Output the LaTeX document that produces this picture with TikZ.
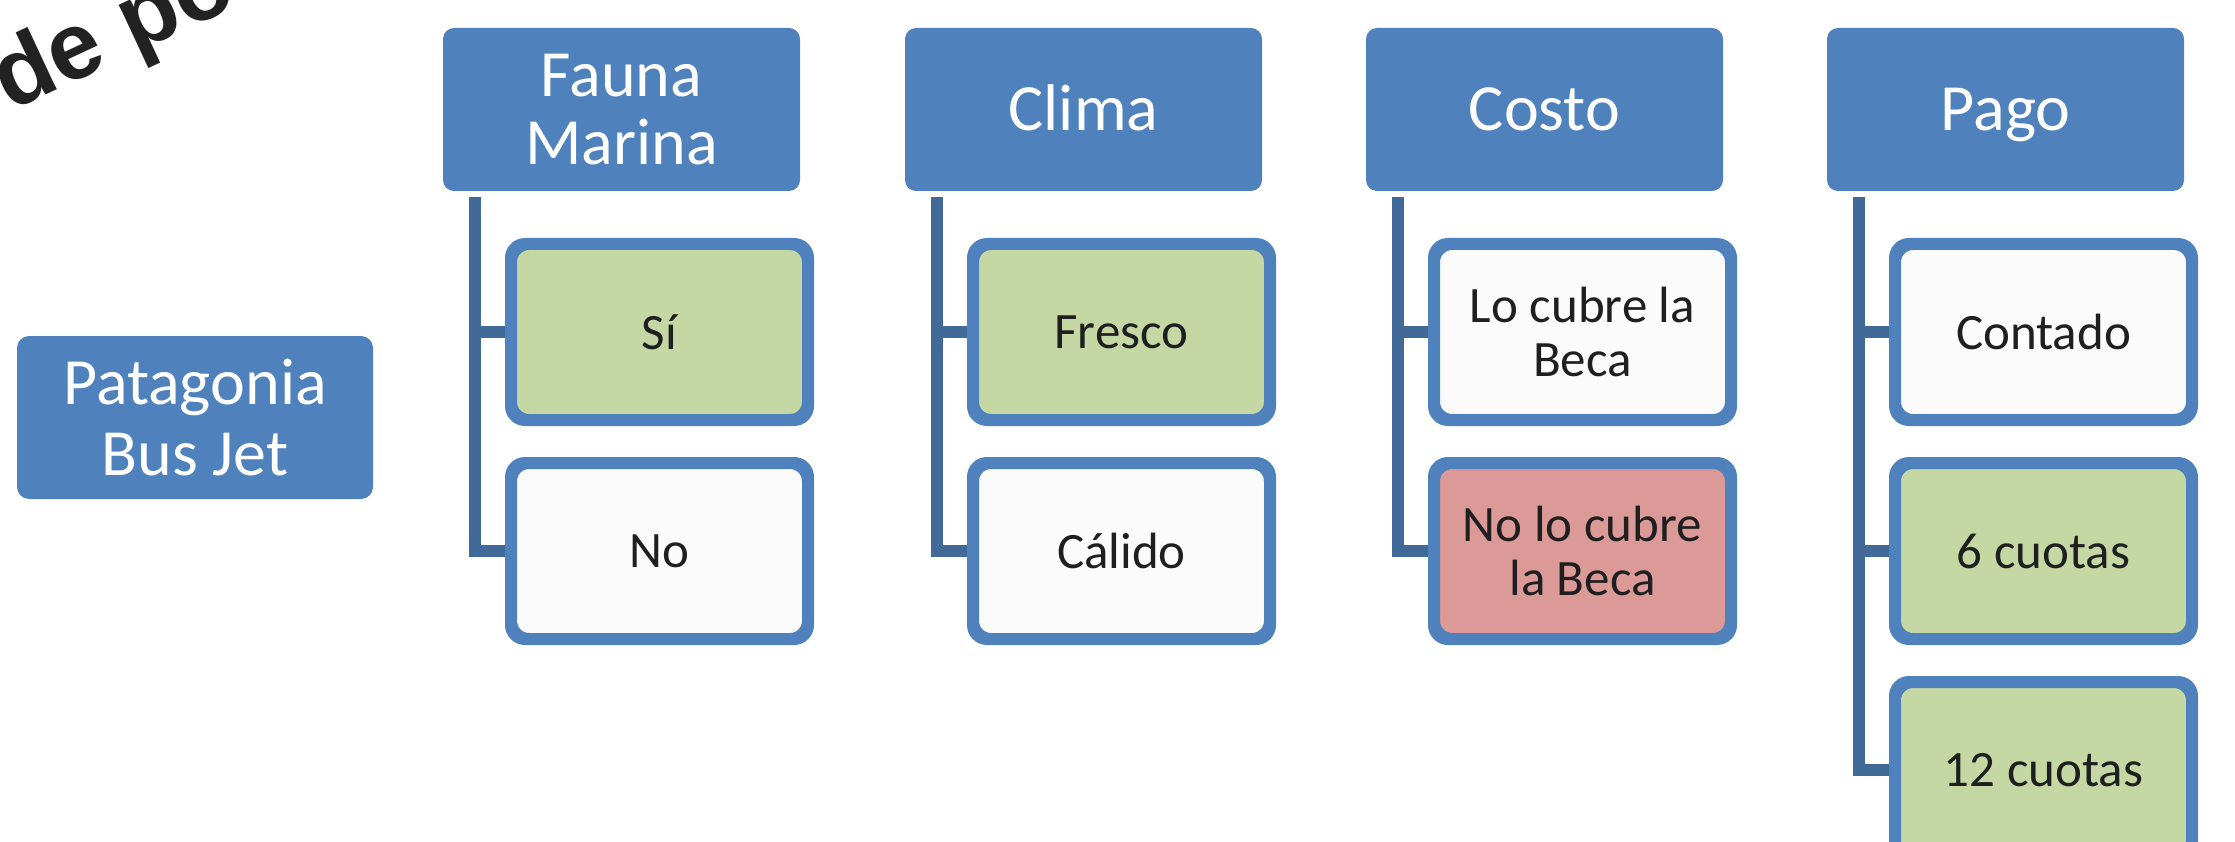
\documentclass[tikz,border=0pt]{standalone}
\usepackage{fontspec}
\setmainfont{Carlito}
\newfontfamily\arialfont{Liberation Sans}
\usetikzlibrary{calc}
\definecolor{hdrblue}{RGB}{79,129,189}
\definecolor{connblue}{RGB}{65,106,153}
\definecolor{okgreen}{RGB}{197,216,164}
\definecolor{nored}{RGB}{219,153,152}
\definecolor{offwhite}{RGB}{251,251,251}
\definecolor{titledark}{RGB}{34,34,34}
\begin{document}
\begin{tikzpicture}[x=1pt,y=-1pt,
  hdr/.style={fill=hdrblue, draw=none, rounded corners=11pt, minimum width=357pt, minimum height=163pt,
    text=white, font=\fontsize{66}{70}\selectfont, align=center, inner sep=0pt},
  hdrone/.style={hdr, text height=42pt, text depth=0pt},
  opt/.style={draw=hdrblue, line width=8pt, rounded corners=16pt, minimum width=293pt, minimum height=172pt,
    font=\fontsize{51}{54}\selectfont, align=center, inner sep=0pt, text=black!88},
  optgreen/.style={fill=okgreen},
  optred/.style={fill=nored},
  optwhite/.style={fill=offwhite},
  conn/.style={draw=connblue, line width=12pt, line join=miter},
  title/.style={font=\arialfont\bfseries\fontsize{95}{100}\selectfont, text=titledark, inner sep=0pt}]
\useasboundingbox (0,0) rectangle (2235,842);
\clip (0,0) rectangle (2235,842);
\fill[white] (0,0) rectangle (2235,842);

% rotated title fragment
\node[title, rotate=25, anchor=base west] (ttl) at (10,112) {de po};

% root
\node[hdr, minimum width=356pt, rounded corners=12pt, font=\fontsize{66}{71}\selectfont] (root) at (195,417.5) {Patagonia\\Bus Jet};

% headers
\node[hdr, font=\fontsize{66}{68}\selectfont] (h1) at (621.5,109.5) {Fauna\\Marina};
\node[hdrone] (h2) at (1083.5,109.5) {Clima};
\node[hdrone] (h3) at (1544.5,109.5) {Costo};
\node[hdrone] (h4) at (2005.5,109.5) {Pago};

% options
\node[opt, optgreen] (o11) at (659.5,332) {Sí};
\node[opt, optwhite] (o12) at (659.5,551) {No};
\node[opt, optgreen] (o21) at (1121.5,332) {Fresco};
\node[opt, optwhite] (o22) at (1121.5,551) {Cálido};
\node[opt, optwhite] (o31) at (1582.5,332) {Lo cubre la\\Beca};
\node[opt, optred] (o32) at (1582.5,551) {No lo cubre\\la Beca};
\node[opt, optwhite] (o41) at (2043.5,332) {Contado};
\node[opt, optgreen] (o42) at (2043.5,551) {6 cuotas};
\node[opt, optgreen] (o43) at (2043.5,770) {12 cuotas};

% connector tops
\coordinate (t1) at ($(h1.south west)+(32,6)$);
\coordinate (t2) at ($(h2.south west)+(32,6)$);
\coordinate (t3) at ($(h3.south west)+(32,6)$);
\coordinate (t4) at ($(h4.south west)+(32,6)$);

\draw[conn] (t1) |- (o11.west);
\draw[conn] (t1) |- (o12.west);
\draw[conn] (t2) |- (o21.west);
\draw[conn] (t2) |- (o22.west);
\draw[conn] (t3) |- (o31.west);
\draw[conn] (t3) |- (o32.west);
\draw[conn] (t4) |- (o41.west);
\draw[conn] (t4) |- (o42.west);
\draw[conn] (t4) |- (o43.west);

% redraw option borders over connector ends
\foreach \n in {o11,o12,o21,o22,o31,o32,o41,o42,o43}{
  \draw[hdrblue, line width=8pt, rounded corners=16pt] (\n.north west) rectangle (\n.south east);
}
\end{tikzpicture}
\end{document}
